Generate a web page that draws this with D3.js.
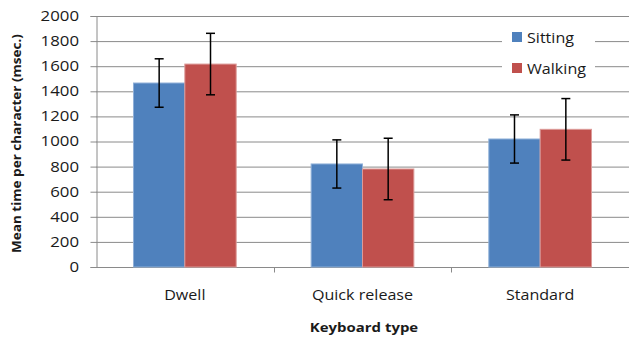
<!DOCTYPE html>
<html>
<head>
<meta charset="utf-8">
<script src="https://cdn.jsdelivr.net/npm/d3@7"></script>
<style>
  body { margin: 0; background: #fff; }
  text { font-family: "Open Sans", "DejaVu Sans", sans-serif; fill: #1a1a1a; }
</style>
</head>
<body>
<svg id="chart"></svg>
<script>
const categories = ["Dwell", "Quick release", "Standard"];
const seriesNames = ["Sitting", "Walking"];
const sittingMeans = [1466, 821, 1020];
const walkingMeans = [1617, 781, 1097];
const sittingErr = [193, 192, 192];
const walkingErr = [245, 245, 245];
const yTicks = [0, 200, 400, 600, 800, 1000, 1200, 1400, 1600, 1800, 2000];
const colors = ["#4F81BD", "#C0504D"];

const svg_width = 629, svg_height = 337;
const margin = { top: 16, right: 0, bottom: 70, left: 96 },
    width = svg_width - margin.left - margin.right,
    height = svg_height - margin.top - margin.bottom;
const stretch = 1.15; // the original text is drawn wide

const root = d3.select("#chart")
    .attr("width", svg_width)
    .attr("height", svg_height);

const svg = root.append("g")
    .attr("transform", `translate(${margin.left},${margin.top})`);

const x = d3.scaleBand().domain(categories).range([0, width]);
const xs = d3.scaleBand().domain(seriesNames)
    .range([0, x.bandwidth()]).paddingInner(0).paddingOuter(0.73);
const y = d3.scaleLinear().domain([0, 2000]).range([height, 0]);

// gridlines
svg.append("g")
    .selectAll("line")
    .data(yTicks.filter(d => d > 0))
    .join("line")
    .attr("x1", 0).attr("x2", width)
    .attr("y1", d => y(d) + 0.5).attr("y2", d => y(d) + 0.5)
    .attr("stroke", "#8a8a8a").attr("stroke-width", 1);

// y axis
const yAxis = svg.append("g")
    .attr("transform", "translate(0.5,0)")
    .call(d3.axisLeft(y).tickValues(yTicks).tickSize(6).tickFormat(d3.format("d")));
yAxis.select(".domain").attr("stroke", "#8a8a8a");
yAxis.selectAll(".tick line").attr("stroke", "#8a8a8a");
yAxis.selectAll(".tick text")
    .attr("x", 0)
    .attr("font-size", 14)
    .attr("font-family", "'Open Sans', sans-serif")
    .attr("fill", "#1a1a1a")
    .attr("transform", "translate(-17.5,0) scale(1.2,1)");

// x axis
const xAxis = svg.append("g")
    .attr("transform", `translate(0,${height + 0.5})`);
xAxis.append("line")
    .attr("x1", 0).attr("x2", width)
    .attr("stroke", "#8a8a8a");
xAxis.selectAll(".cat-tick")
    .data(categories.slice(1))
    .join("line")
    .attr("class", "cat-tick")
    .attr("x1", d => Math.round(x(d)) + 0.5).attr("x2", d => Math.round(x(d)) + 0.5)
    .attr("y1", 0).attr("y2", 5)
    .attr("stroke", "#8a8a8a");
xAxis.selectAll(".cat-label")
    .data(categories)
    .join("text")
    .attr("class", "cat-label")
    .attr("transform", d => `translate(${x(d) + x.bandwidth() / 2},32) scale(${stretch},1)`)
    .attr("text-anchor", "middle")
    .attr("font-size", 14)
    .text(d => d);

// bars
const data = categories.map((c, i) => ({
    cat: c,
    vals: [
        { s: "Sitting", v: sittingMeans[i], e: sittingErr[i] },
        { s: "Walking", v: walkingMeans[i], e: walkingErr[i] }
    ]
}));

const groups = svg.append("g").selectAll("g")
    .data(data)
    .join("g")
    .attr("transform", d => `translate(${x(d.cat)},0)`);

groups.selectAll("rect")
    .data(d => d.vals)
    .join("rect")
    .attr("x", d => xs(d.s))
    .attr("y", d => y(d.v))
    .attr("width", xs.bandwidth())
    .attr("height", d => height - y(d.v))
    .attr("fill", (d, i) => colors[i])
    .attr("stroke", (d, i) => i === 0 ? "#8fb0d8" : "#dc9a98")
    .attr("stroke-width", 1);

// error bars
const err = groups.selectAll("g.err")
    .data(d => d.vals)
    .join("g")
    .attr("class", "err")
    .attr("transform", d => `translate(${xs(d.s) + xs.bandwidth() / 2},0)`);
err.append("line")
    .attr("y1", d => y(d.v + d.e)).attr("y2", d => y(d.v - d.e))
    .attr("stroke", "#000").attr("stroke-width", 1.5);
err.append("line")
    .attr("x1", -4.5).attr("x2", 4.5)
    .attr("y1", d => y(d.v + d.e)).attr("y2", d => y(d.v + d.e))
    .attr("stroke", "#000").attr("stroke-width", 1.5);
err.append("line")
    .attr("x1", -4.5).attr("x2", 4.5)
    .attr("y1", d => y(d.v - d.e)).attr("y2", d => y(d.v - d.e))
    .attr("stroke", "#000").attr("stroke-width", 1.5);

// legend
const legend = root.append("g").attr("transform", "translate(502,22)");
legend.append("rect")
    .attr("width", 93).attr("height", 60)
    .attr("fill", "#fff");
const li = legend.selectAll("g.item")
    .data(seriesNames)
    .join("g")
    .attr("class", "item")
    .attr("transform", (d, i) => `translate(10,${10 + i * 31})`);
li.append("rect")
    .attr("width", 10).attr("height", 10)
    .attr("fill", (d, i) => colors[i]);
li.append("text")
    .attr("transform", `translate(15,10.5) scale(${stretch},1)`)
    .attr("font-size", 14)
    .text(d => d);

// axis titles
root.append("text")
    .attr("transform", `translate(21,${margin.top + height / 2 + 2}) rotate(-90) scale(1.04,1)`)
    .attr("text-anchor", "middle")
    .attr("font-size", 13)
    .attr("font-weight", "bold")
    .text("Mean time per character (msec.)");

root.append("text")
    .attr("transform", `translate(364,332) scale(${stretch},1)`)
    .attr("text-anchor", "middle")
    .attr("font-size", 13)
    .attr("font-weight", "bold")
    .text("Keyboard type");
</script>
</body>
</html>
